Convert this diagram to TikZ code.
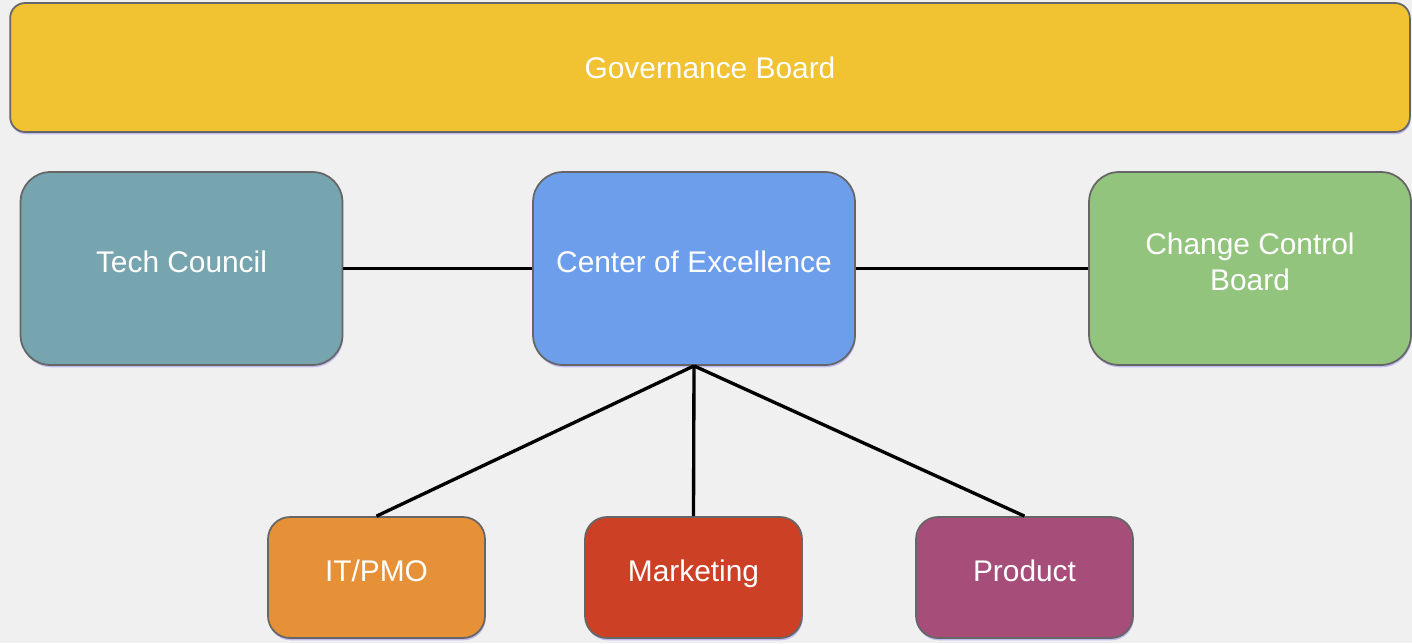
\documentclass[tikz,border=0pt]{standalone}
\usepackage{xcolor}
\usepackage{tikz}
\usepackage{fontspec}
\setmainfont{Liberation Sans}
\usetikzlibrary{arrows,backgrounds,calc,shapes,shadows,positioning,fit}
\definecolor{bgray}{HTML}{F0F0F0}
\definecolor{edgegray}{HTML}{666666}
\definecolor{glow}{HTML}{7B6CF0}
\definecolor{govyellow}{HTML}{F1C232}
\definecolor{techteal}{HTML}{76A5AF}
\definecolor{coeblue}{HTML}{6D9EEB}
\definecolor{ccbgreen}{HTML}{93C47D}
\definecolor{itorange}{HTML}{E69138}
\definecolor{mktred}{HTML}{CC4125}
\definecolor{prodpurple}{HTML}{A64D79}

\begin{document}
\begin{tikzpicture}[x=0.02cm,y=-0.02cm,
  unit/.style={draw=edgegray, line width=1pt, text=white, align=center,
    font=\fontsize{17}{20}\selectfont, text height=0.43cm, text depth=0.29cm,
    drop shadow={shadow xshift=0.4pt, shadow yshift=-1.3pt, fill=glow, opacity=0.4}},
  board/.style={unit, rounded corners=0.3cm, minimum width=28cm, minimum height=2.58cm, text depth=0cm},
  council/.style={unit, rounded corners=0.6cm, minimum width=6.44cm, minimum height=3.86cm},
  team/.style={unit, rounded corners=0.44cm, minimum width=4.34cm, minimum height=2.42cm},
  link/.style={line width=1.9pt, black}]
  \fill[bgray] (0,0) rectangle (1412,643);
  \node[board, fill=govyellow] (gov) at (710,67.5) {Governance Board};
  \node[council, fill=techteal] (tech) at (181.5,268.5) {Tech Council};
  \node[council, fill=coeblue] (coe) at (694,268.5) {Center of Excellence};
  \node[council, fill=ccbgreen, text height=1.13cm, text depth=0.27cm] (ccb) at (1250,268.5) {Change Control\\Board};
  \node[team, fill=itorange] (itpmo) at (376.5,577.5) {IT/PMO};
  \node[team, fill=mktred] (mkt) at (693.5,577.5) {Marketing};
  \node[team, fill=prodpurple] (prod) at (1024.5,577.5) {Product};
  \draw[link] (tech.east) -- (coe.west);
  \draw[link] (coe.east) -- (ccb.west);
  \draw[link] (coe.south) -- (itpmo.north);
  \draw[link] (coe.south) -- (mkt.north);
  \draw[link] (coe.south) -- (prod.north);
\end{tikzpicture}
\end{document}
